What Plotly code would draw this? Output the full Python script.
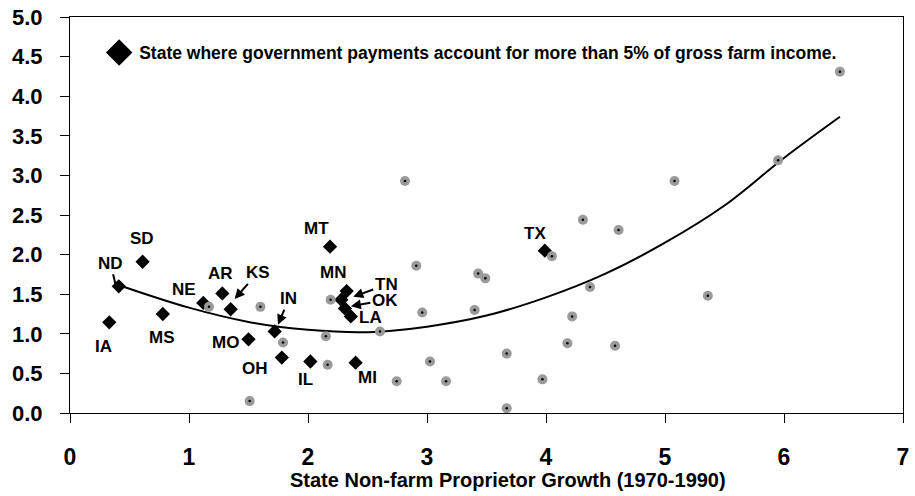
import plotly.graph_objects as go

# ---------------- data ----------------
state_names = ["IA", "ND", "SD", "MS", "NE", "AR", "KS", "MO", "IN", "OH",
               "IL", "MI", "MT", "MN", "TN", "OK", "LA", "TX"]
state_x = [0.33, 0.41, 0.61, 0.78, 1.12, 1.28, 1.35, 1.50, 1.72, 1.78,
           2.02, 2.40, 2.185, 2.28, 2.325, 2.31, 2.36, 3.99]
state_y = [1.145, 1.60, 1.91, 1.25, 1.39, 1.51, 1.31, 0.93, 1.03, 0.70,
           0.65, 0.635, 2.10, 1.43, 1.54, 1.32, 1.22, 2.05]

other_x = [1.168, 1.60, 1.79, 1.51, 2.815, 2.91, 2.19, 2.96, 2.15, 2.605,
           2.165, 3.025, 2.745, 3.16, 4.05, 5.08, 4.31, 4.61, 3.43, 3.49,
           3.40, 4.37, 4.22, 5.36, 4.18, 4.58, 3.67, 3.97, 3.67, 6.47, 5.95]
other_y = [1.34, 1.34, 0.89, 0.15, 2.93, 1.86, 1.43, 1.27, 0.97, 1.03,
           0.61, 0.65, 0.40, 0.40, 1.98, 2.93, 2.44, 2.31, 1.76, 1.70,
           1.30, 1.59, 1.22, 1.48, 0.88, 0.85, 0.75, 0.425, 0.06, 4.31, 3.19]

trend_x = [0.40, 1.0, 1.5, 2.0, 2.5, 3.0, 3.5, 4.0, 4.5, 5.0, 5.5, 6.0, 6.47]
trend_y = [1.62, 1.33, 1.15, 1.05, 1.02, 1.09, 1.23, 1.46, 1.76, 2.15, 2.62, 3.22, 3.74]

x_ticks = [0, 1, 2, 3, 4, 5, 6, 7]
y_ticks = [0.0, 0.5, 1.0, 1.5, 2.0, 2.5, 3.0, 3.5, 4.0, 4.5, 5.0]

legend_text = "State where government payments account for more than 5% of gross farm income."
x_title = "State Non-farm Proprietor Growth (1970-1990)"

FONT = "Liberation Sans, Arial, sans-serif"

fig = go.Figure()

fig.add_trace(go.Scatter(x=trend_x, y=trend_y, mode="lines", line=dict(color="black", width=2, shape="spline"),
                         showlegend=False, hoverinfo="skip"))
fig.add_trace(go.Scatter(x=state_x, y=state_y, mode="markers", text=state_names,
                         marker=dict(symbol="diamond", size=11, color="black"), showlegend=False))
# legend proxy
fig.add_trace(go.Scatter(x=[None], y=[None], mode="markers", name=legend_text,
                         marker=dict(symbol="diamond", size=20, color="black",
                                     line=dict(color="black", width=4)), showlegend=True))
fig.add_trace(go.Scatter(x=other_x, y=other_y, mode="markers",
                         marker=dict(symbol="circle", size=10, color="#9a9a9a"), showlegend=False))
fig.add_trace(go.Scatter(x=other_x, y=other_y, mode="markers",
                         marker=dict(symbol="circle", size=2.5, color="black"), showlegend=False, hoverinfo="skip"))

# label placement (screen px, down positive)
plain_offsets = {"SD": (-1, -23), "IA": (-6, 24), "MS": (-1, 23), "NE": (-19, -13), "AR": (-2, -20),
                 "MO": (-23, 3), "OH": (-27, 11), "IL": (-5, 18), "MI": (12, 15), "MT": (-14, -18),
                 "MN": (-8, -27), "LA": (20, 1), "TX": (-10, -17)}
# head shift (hx, hy) and text offset from head (ax, ay), arrowhead style
arrow_offsets = {"ND": (-3.3, -2, -5, -21, 0), "KS": (4, -10.3, 23, -26, 2), "IN": (3.3, -6.7, 11, -26, 2),
                 "TN": (6.6, 5.7, 33, -12, 2), "OK": (6, -2.3, 34, -6, 2)}

LABEL_FONT = dict(family=FONT, size=17, color="black", weight="bold")

annotations = []
for name, x, y in zip(state_names, state_x, state_y):
    if name in plain_offsets:
        dx, dy = plain_offsets[name]
        annotations.append(dict(x=x, y=y, xref="x", yref="y", text=name, showarrow=False,
                                xshift=dx, yshift=-dy, font=LABEL_FONT))
    elif name in arrow_offsets:
        hx, hy, ax, ay, head = arrow_offsets[name]
        annotations.append(dict(x=x, y=y, xref="x", yref="y", text=name, showarrow=True,
                                xshift=hx, yshift=-hy, ax=ax, ay=ay, arrowhead=head, arrowsize=1,
                                arrowwidth=2, arrowcolor="black", standoff=0, startstandoff=0,
                                font=LABEL_FONT))

# x-axis title (placed as an annotation to match the reference's horizontal offset)
annotations.append(dict(x=0.526, y=0, xref="paper", yref="paper", text=x_title, showarrow=False,
                        xanchor="center", yanchor="middle", yshift=-67,
                        font=dict(family=FONT, size=20, color="black", weight="bold")))

fig.update_layout(
    width=915, height=496,
    margin=dict(l=70, r=12, t=17, b=83, autoexpand=False),
    paper_bgcolor="white", plot_bgcolor="white",
    font=dict(family=FONT, color="black"),
    annotations=annotations,
    legend=dict(x=0.035, y=0.91, xanchor="left", yanchor="middle", bgcolor="rgba(0,0,0,0)",
                font=dict(family=FONT, size=17.5, color="black", weight="bold"), itemsizing="trace"),
    xaxis=dict(range=[0, 7], tickvals=x_ticks, ticktext=[str(v) for v in x_ticks],
               ticks="outside", ticklen=9, tickwidth=1, tickcolor="black", automargin=False,
               showline=True, linecolor="black", linewidth=1, mirror=True,
               showgrid=False, zeroline=False, ticklabelstandoff=14,
               tickfont=dict(family=FONT, size=23, color="black", weight="bold")),
    yaxis=dict(range=[0, 5], tickvals=y_ticks, ticktext=[f"{v:.1f}" for v in y_ticks],
               ticks="outside", ticklen=9, tickwidth=1, tickcolor="black", automargin=False,
               showline=True, linecolor="black", linewidth=1, mirror=True,
               showgrid=False, zeroline=False, ticklabelstandoff=13,
               tickfont=dict(family=FONT, size=22, color="black", weight="bold")),
)

fig.write_html("out.html", config={"displayModeBar": False},
               post_script="document.body.style.margin='0';document.body.style.overflow='hidden';")
